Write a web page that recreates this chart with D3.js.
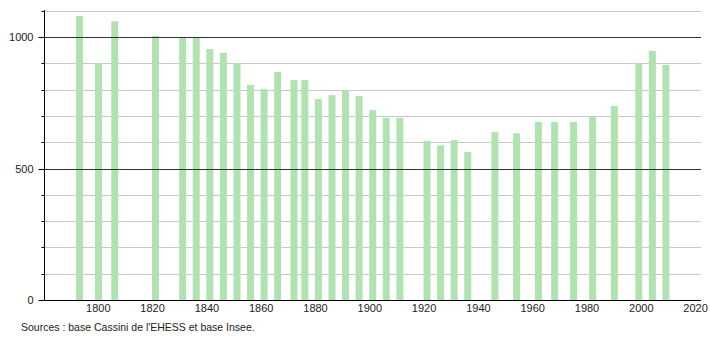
<!DOCTYPE html>
<html><head><meta charset="utf-8">
<script src="https://cdn.jsdelivr.net/npm/d3@7"></script>
<style>body{margin:0;background:#fff;}svg{display:block;font-family:"Liberation Sans",Arial,sans-serif;}</style>
</head><body>
<svg id="c" width="710" height="340"></svg>
<script>
const years = [1793,1800,1806,1821,1831,1836,1841,1846,1851,1856,1861,1866,1872,1876,1881,1886,1891,1896,1901,1906,1911,1921,1926,1931,1936,1946,1954,1962,1968,1975,1982,1990,1999,2004,2009];
const population = [1080,900,1060,1004,1000,998,954,940,900,818,802,867,836,836,764,779,797,776,722,692,692,605,588,608,563,639,634,677,677,677,697,738,901,947,894];
const xTicks = [1800,1820,1840,1860,1880,1900,1920,1940,1960,1980,2000,2020];
const yMajor = [0,500,1000];
const yMinor = [100,200,300,400,600,700,800,900,1100];
const source = "Sources : base Cassini de l'EHESS et base Insee.";

const svg = d3.select("#c");
const x = d3.scaleLinear().domain([1780, 2020]).range([43.5, 695.1]);
const y = d3.scaleLinear().domain([0, 1100]).range([300, 10.7]);

// minor gridlines
svg.append("g").selectAll("line").data(yMinor).join("line")
  .attr("x1", 44).attr("x2", 701)
  .attr("y1", d => Math.round(y(d)) + 0.5).attr("y2", d => Math.round(y(d)) + 0.5)
  .attr("stroke", "#c8c8c8").attr("stroke-width", 1);

// bars
svg.append("g").selectAll("rect").data(years).join("rect")
  .attr("x", (d) => x(d) - 2.8).attr("width", 7)
  .attr("y", (d, i) => y(population[i])).attr("height", (d, i) => y(0) - y(population[i]))
  .attr("fill", "#b1e3b1");

// major gridlines
svg.append("g").selectAll("line").data(yMajor.filter(d => d > 0)).join("line")
  .attr("x1", 44).attr("x2", 701)
  .attr("y1", d => Math.round(y(d)) + 0.5).attr("y2", d => Math.round(y(d)) + 0.5)
  .attr("stroke", "#333").attr("stroke-width", 1);

// y axis
const ya = svg.append("g").attr("transform", "translate(44.5,0)");
ya.append("line").attr("x1", 0).attr("x2", 0).attr("y1", 10).attr("y2", 300).attr("stroke", "#000");
ya.selectAll(".mt").data(yMinor).join("line").attr("class", "mt")
  .attr("x1", -3).attr("x2", 0)
  .attr("y1", d => Math.round(y(d)) + 0.5).attr("y2", d => Math.round(y(d)) + 0.5).attr("stroke", "#000");
ya.selectAll(".Mt").data(yMajor).join("line").attr("class", "Mt")
  .attr("x1", -6).attr("x2", 0)
  .attr("y1", d => Math.round(y(d)) + 0.5).attr("y2", d => Math.round(y(d)) + 0.5).attr("stroke", "#000");
ya.selectAll("text").data(yMajor).join("text")
  .attr("x", -11).attr("y", d => y(d) + 4)
  .attr("text-anchor", "end").attr("font-size", 11).attr("fill", "#222")
  .text(d => d);

// x axis
svg.append("line").attr("x1", 39).attr("x2", 701).attr("y1", 300.5).attr("y2", 300.5).attr("stroke", "#000");
const xa = d3.axisBottom(x).tickValues(xTicks).tickSize(0).tickPadding(0).tickFormat(d3.format("d"));
const gx = svg.append("g").attr("transform", "translate(0,300)").call(xa);
gx.select(".domain").remove();
gx.selectAll("text").attr("y", 4).attr("font-size", 11).attr("fill", "#222").attr("font-family", "Liberation Sans, Arial, sans-serif");

svg.append("text").attr("x", 21).attr("y", 331).attr("font-size", 10.5).attr("fill", "#222").text(source);
</script>
</body></html>
